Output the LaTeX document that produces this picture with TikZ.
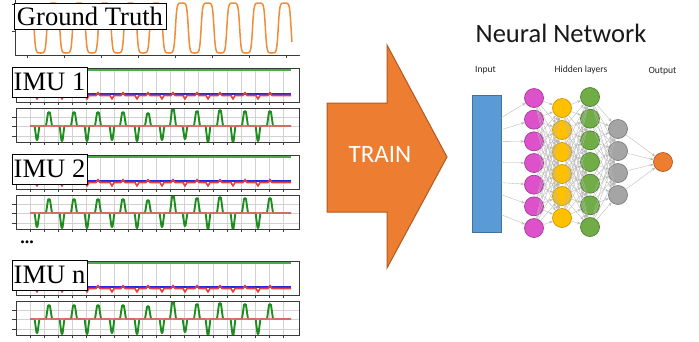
\documentclass[tikz,border=0pt]{standalone}
\usepackage{fontspec}
\setmainfont{Liberation Serif}
\newfontfamily\calib{Carlito}
\usetikzlibrary{arrows.meta,calc}

\definecolor{gtorange}{HTML}{F28C38}
\definecolor{accgreen}{HTML}{4CAA4C}
\definecolor{spkgreen}{HTML}{1E8C1E}
\definecolor{redline}{HTML}{E8403F}
\definecolor{redbase}{HTML}{E56A6A}
\definecolor{blueline}{HTML}{2626E0}
\definecolor{gridgray}{HTML}{D2D2D2}
\definecolor{axisgray}{HTML}{3A3A3A}
\definecolor{nnblue}{HTML}{5B9BD5}
\definecolor{nnblueb}{HTML}{41719C}
\definecolor{nnmag}{HTML}{DD52CA}
\definecolor{nnmagb}{HTML}{A43A95}
\definecolor{nnyel}{HTML}{FFC000}
\definecolor{nnyelb}{HTML}{C99700}
\definecolor{nngrn}{HTML}{70AD47}
\definecolor{nngrnb}{HTML}{507E32}
\definecolor{nngry}{HTML}{A5A5A5}
\definecolor{nngryb}{HTML}{7C7C7C}
\definecolor{nnorg}{HTML}{ED7D31}
\definecolor{nnorgb}{HTML}{AE5A21}

\begin{document}
\begin{tikzpicture}[x=1pt,y=-1pt,
  lbl/.style={draw=black,fill=white,line width=0.9pt,inner sep=0pt,
    font=\fontsize{26.6}{28}\selectfont},
  axisline/.style={draw=axisgray,line width=0.7pt},
  gridline/.style={draw=gridgray,line width=0.8pt},
  tickline/.style={draw=axisgray,line width=0.6pt},
  neuron/.style={circle,minimum size=19pt,inner sep=0pt,line width=0.7pt},
  conn/.style={draw=black!28,line width=0.35pt,-{Stealth[length=3.5pt,width=2.6pt]}},
  smalllbl/.style={font=\calib\fontsize{9.6}{11}\selectfont,text=black!85}
]
\useasboundingbox (0,0) rectangle (699,341);
\fill[white] (0,0) rectangle (699,341);

% ---------- ground truth trace ----------
\draw[axisline] (15,0) -- (15,55) -- (300,55);
\foreach \t in {27,64,101,138,175,212,249,286} \draw[tickline] (\t,55) -- (\t,58);
\foreach \t in {4,31} \draw[tickline] (12,\t) -- (15,\t);
\draw[gtorange,line width=1.5pt,line join=round]
  plot[domain=33:292,samples=500] (\x,{28+25*tanh(2.8*cos(14.008*(\x-40.5)))/tanh(2.8)});
\node[lbl,minimum width=152,minimum height=26] (gt) at (90,16) {Ground Truth};

% ---------- IMU panels ----------
\foreach \dy/\lab/\nm in {0/IMU 1/imuA, 87/IMU 2/imuB, 193/IMU n/imuN}{
  \begin{scope}[shift={(0,\dy)}]
    % grids
    \foreach \k in {0,...,18}{
      \draw[gridline] ({30+14.07*\k},68) -- ++(0,34);
      \draw[gridline] ({30+14.07*\k},108) -- ++(0,34);
      \draw[tickline] ({30+14.07*\k},102) -- ++(0,3);
      \draw[tickline] ({30+14.07*\k},142) -- ++(0,3);
    }
    \foreach \h in {117,126,136}{
      \draw[gridline] (16,\h) -- (299,\h);
      \draw[tickline] (12,\h) -- (16,\h);
    }
    \draw[tickline] (12,95) -- (16,95);
    % upper plot: accelerometer-like traces
    \draw[accgreen,line width=2.4pt] (30,70) -- (291,70);
    \draw[blueline,line width=1.3pt] (30,94) -- (291,94);
    \draw[redline,line width=1.6pt,line join=round] (30,95.5)
      \foreach \a/\b in {37/49,62/74,87/98,112/123,137/148,162/173,185/197,208/220,233/245,258/270}
        { -- (\a-2,95.5) -- (\a,99) -- (\a+2,95.5) -- (\b-2,95.5) -- (\b,92.5) -- (\b+2,95.5) }
      -- (291,95.5);
    % lower plot: gyro-like spikes
    \draw[spkgreen,line width=1.9pt,line join=round] (30,126)
      \foreach \a/\da/\b/\ub in {37/140/49/112,62/141/74/112,87/141/98/112,112/140/123/112,
          137/141/148/113,162/140/173/109,185/139/197/111,208/142/220/110,233/142/245/111,258/141/270/111}
        { -- (\a-2.4,126) -- (\a-0.6,\da-1) -- (\a,\da) -- (\a+0.6,\da-1) -- (\a+2.4,126)
          -- (\b-3,126) -- (\b-1,\ub+1) -- (\b,\ub) -- (\b+1,\ub+1) -- (\b+3,126) }
      -- (291,126);
    \draw[redbase,line width=2.2pt,opacity=0.9] (30,126) -- (291,126);
    % frames
    \draw[axisline] (16,68) rectangle (299,102);
    \draw[axisline] (16,108) rectangle (299,142);
    \node[lbl,minimum width=75,minimum height=30] (\nm) at (49.5,82) {\lab};
  \end{scope}
}
\node[font=\bfseries\fontsize{18}{20}\selectfont] (dots) at (27,242) {...};

% ---------- TRAIN arrow ----------
\draw[fill=nnorg,draw=nnorgb,line width=1pt,line join=miter]
  (327,103) -- (387,103) -- (387,45) -- (447,157) -- (387,268) -- (387,212) -- (327,212) -- cycle;
\node[font=\calib\fontsize{25}{27}\selectfont,text=white] (train) at (380,154) {TRAIN};

% ---------- neural network ----------
\node[font=\calib\fontsize{26.5}{28}\selectfont,text=black!90] (nntitle) at (561,33) {Neural Network};
\node[smalllbl] (lin) at (485.5,70) {Input};
\node[smalllbl] (lhid) at (581,70) {Hidden layers};
\node[smalllbl] (lout) at (662.5,71) {Output};

\node[draw=nnblueb,fill=nnblue,line width=0.7pt,minimum width=29pt,minimum height=137pt,inner sep=0pt]
  (inp) at (486.5,163.5) {};

\foreach \i in {1,...,7}
  \node[neuron,fill=nnmag,draw=nnmagb] (m\i) at (534,{98+21.67*(\i-1)}) {};
\foreach \i in {1,...,6}
  \node[neuron,fill=nnyel,draw=nnyelb] (y\i) at (562,{108+22*(\i-1)}) {};
\foreach \i in {1,...,7}
  \node[neuron,fill=nngrn,draw=nngrnb] (g\i) at (590,{97+21.67*(\i-1)}) {};
\foreach \i in {1,...,4}
  \node[neuron,fill=nngry,draw=nngryb] (q\i) at (618,{129+22*(\i-1)}) {};
\node[neuron,fill=nnorg,draw=nnorgb] (out) at (663,162) {};

% input edges
\foreach \i/\o in {1/23,2/35,3/47,4/68,5/88,6/100,7/120}
  \draw[conn] (inp.north east) ++(0,\o) -- (m\i);
% hidden edges
\foreach \i in {1,...,7} \foreach \j in {1,...,6} \draw[conn] (m\i) -- (y\j);
\foreach \i in {1,...,6} \foreach \j in {1,...,7} \draw[conn] (y\i) -- (g\j);
\foreach \i in {1,...,7} \foreach \j in {1,...,4} \draw[conn] (g\i) -- (q\j);
\foreach \i in {1,...,4} \draw[conn] (q\i) -- (out);
\end{tikzpicture}
\end{document}
